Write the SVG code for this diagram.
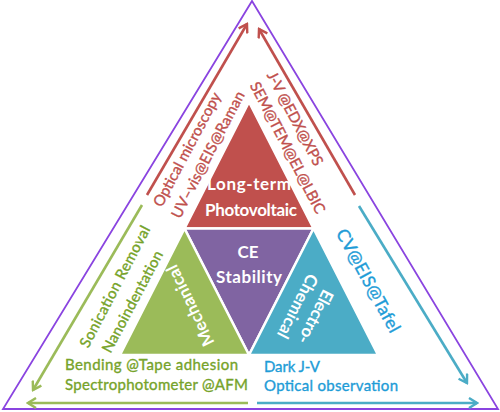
<svg xmlns="http://www.w3.org/2000/svg" width="500" height="412" viewBox="0 0 500 412">
<style>
  .t { font-family: Lato, "Open Sans", "Liberation Sans", sans-serif; font-size: 15px; stroke-width: 0.35; }
  .w { font-family: Lato, "Open Sans", "Liberation Sans", sans-serif; font-size: 17px; font-weight: bold; fill: #ffffff; text-anchor: middle; }
  .red { fill: #C0504D; stroke: #C0504D; }
  .grn { fill: #76A32A; stroke: #76A32A; }
  .blu { fill: #1E9CD7; stroke: #1E9CD7; }
  .tri { stroke: #ffffff; stroke-width: 2.5; stroke-linejoin: miter; }
  .arr { fill: none; stroke-width: 2.6; }
</style>
<defs>
  <marker id="mr" viewBox="0 0 12 12" refX="10" refY="6" markerWidth="12" markerHeight="12" markerUnits="userSpaceOnUse" orient="auto">
    <path d="M2,1 L10,6 L2,11" fill="none" stroke="#C0504D" stroke-width="2.4"/>
  </marker>
  <marker id="mg" viewBox="0 0 12 12" refX="10" refY="6" markerWidth="12" markerHeight="12" markerUnits="userSpaceOnUse" orient="auto">
    <path d="M2,1 L10,6 L2,11" fill="none" stroke="#9BBB59" stroke-width="2.4"/>
  </marker>
  <marker id="mb" viewBox="0 0 12 12" refX="10" refY="6" markerWidth="12" markerHeight="12" markerUnits="userSpaceOnUse" orient="auto">
    <path d="M2,1 L10,6 L2,11" fill="none" stroke="#4BACC6" stroke-width="2.4"/>
  </marker>
</defs>
<rect width="500" height="412" fill="#ffffff"/>
<g id="frame">
  <polygon points="252,1 3,409 498,409" fill="none" stroke="#8A44E0" stroke-width="1.8"/>
</g>
<g id="connectors">
  <line class="arr" x1="147" y1="195" x2="247" y2="24" stroke="#C0504D" marker-end="url(#mr)"/>
  <line class="arr" x1="355" y1="195" x2="259" y2="29" stroke="#C0504D" marker-end="url(#mr)"/>
  <line class="arr" x1="142" y1="205" x2="33" y2="390" stroke="#9BBB59" marker-end="url(#mg)"/>
  <line class="arr" x1="248" y1="403" x2="28" y2="403" stroke="#9BBB59" marker-end="url(#mg)"/>
  <line class="arr" x1="359" y1="206" x2="467" y2="383" stroke="#4BACC6" marker-end="url(#mb)"/>
  <line class="arr" x1="257" y1="403" x2="477" y2="403" stroke="#4BACC6" marker-end="url(#mb)"/>
</g>
<g id="photovoltaic">
  <polygon class="tri" points="249,102 184.5,228.5 313.5,228.5" fill="#C0504D"/>
  <text class="w" x="249" y="190" textLength="84">Long-term</text>
  <text class="w" x="251" y="216" textLength="92">Photovoltaic</text>
</g>
<g id="ce-stability">
  <polygon class="tri" points="184.5,228.5 313.5,228.5 249,355" fill="#8064A2"/>
  <text class="w" x="248" y="258">CE</text>
  <text class="w" x="249" y="283" textLength="66">Stability</text>
</g>
<g id="mechanical">
  <polygon class="tri" points="184.5,228.5 120,355 249,355" fill="#9BBB59"/>
  <text class="w" transform="translate(195.5,303) rotate(-116)" textLength="88">Mechanical</text>
</g>
<g id="electrochemical">
  <polygon class="tri" points="313.5,228.5 249,355 378,355" fill="#4BACC6"/>
  <text class="w" transform="translate(310.4,314.2) rotate(117)" textLength="58">Electro-</text>
  <text class="w" transform="translate(292.4,303.7) rotate(117)" textLength="70">Chemical</text>
</g>
<g id="photovoltaic-methods">
  <text class="t red" text-anchor="middle" transform="translate(191.5,152) rotate(-62)" textLength="127">Optical microscopy</text>
  <text class="t red" text-anchor="middle" transform="translate(212.5,157) rotate(-62.5)" textLength="141">UV–vis@EIS@Raman</text>
  <text class="t red" text-anchor="middle" transform="translate(290.5,121) rotate(62.4)" textLength="104">J-V @EDX@XPS</text>
  <text class="t red" text-anchor="middle" transform="translate(283,150) rotate(62.7)" textLength="146">SEM@TEM@EL@LBIC</text>
</g>
<g id="mechanical-methods">
  <text class="t grn" text-anchor="middle" transform="translate(119.5,289) rotate(-62.5)" textLength="135">Sonication Removal</text>
  <text class="t grn" text-anchor="middle" transform="translate(137,304) rotate(-62)" textLength="113">Nanoindentation</text>
  <text class="t grn" x="65" y="370" textLength="173">Bending @Tape adhesion</text>
  <text class="t grn" x="65" y="390" textLength="183">Spectrophotometer @AFM</text>
</g>
<g id="electrochemical-methods">
  <text class="t blu" text-anchor="middle" style="font-size:17.5px" transform="translate(363,283.5) rotate(61.5)" textLength="115">CV@EIS@Tafel</text>
  <text class="t blu" x="264" y="372" textLength="56">Dark J-V</text>
  <text class="t blu" x="264" y="391" textLength="134">Optical observation</text>
</g>
</svg>
